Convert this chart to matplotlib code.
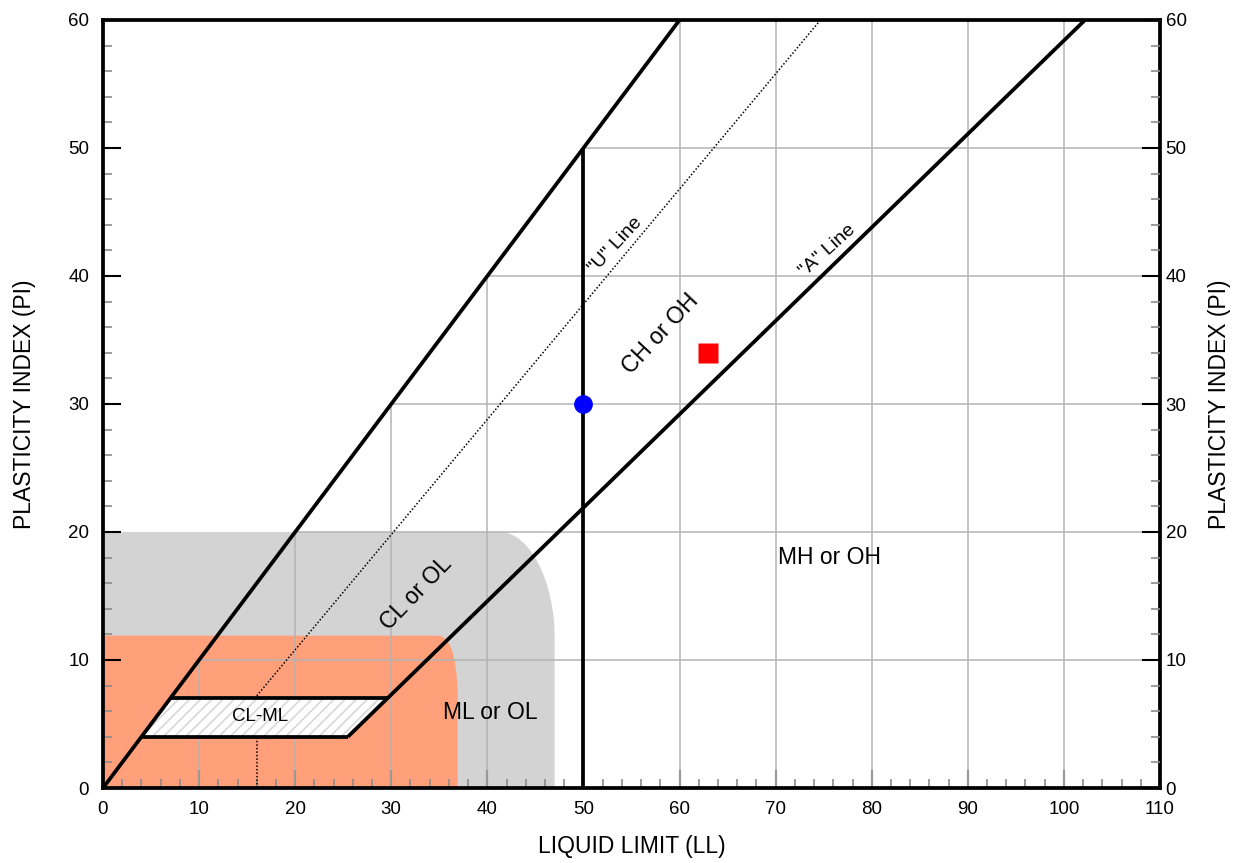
import numpy as np
import matplotlib
matplotlib.use("Agg")
import matplotlib.pyplot as plt
from matplotlib.path import Path
from matplotlib.patches import PathPatch

plt.rcParams['font.family'] = ['Liberation Sans', 'DejaVu Sans']
plt.rcParams['hatch.linewidth'] = 1.2

# chart limits and ticks
x_ticks = list(range(0, 111, 10))
y_ticks = list(range(0, 61, 10))

# zone outlines (LL, PI): straight corner, then rounded corner (bezier: start, c1, c2, end), then down
gray_zone_pts = [(0, 0), (0, 20), (41.3, 20), (44.5, 20), (47.0, 16.0), (47.0, 11.8), (47.0, 0)]
orange_zone_pts = [(0, 0), (0, 11.9), (34.9, 11.9), (36.0, 11.9), (36.8, 10.5), (36.9, 7.5), (36.9, 0)]

# CL-ML band
clml_ll = [4, 25.48, 29.59, 7]
clml_pi = [4, 4, 7, 7]

# lines
upper_ll = [0, 60]
upper_pi = [0, 60]
a_line_ll = [25.48, 102.2]
a_line_pi = [4, 60]
u_line_ll = [16, 74.67]
u_line_pi = [7.2, 60]
u_vert_ll = [16, 16]
u_vert_pi = [0, 4]
ll50_ll = [50, 50]
ll50_pi = [0, 50]

# samples
blue_pt = (50, 30)
red_pt = (63, 34)

# labels: text, LL, PI, rotation, size
zone_labels = [
    ("CH or OH", 58.0, 35.5, 47, 16.5),
    ("CL or OL", 32.6, 15.2, 46, 16.5),
    ("MH or OH", 75.6, 18.0, 0, 16.5),
    ("ML or OL", 40.3, 5.9, 0, 16.5),
    ("CL-ML", 16.3, 5.6, 0, 13.5),
    ('"U" Line', 53.3, 42.4, 47, 14),
    ('"A" Line', 75.4, 42.0, 42, 14),
]


def zone_path(pts):
    codes = [Path.MOVETO, Path.LINETO, Path.LINETO, Path.CURVE4, Path.CURVE4,
             Path.CURVE4, Path.LINETO, Path.CLOSEPOLY]
    return Path(pts + [pts[0]], codes)


fig = plt.figure(figsize=(12.39, 8.63), dpi=100)
ax = fig.add_axes([103 / 1239, 1 - 788 / 863, 1057 / 1239, 768 / 863])
ax2 = ax.twinx()
ax.set_xlim(0, 110)
ax.set_ylim(0, 60)
ax2.set_ylim(0, 60)

# shaded zones
ax.add_patch(PathPatch(zone_path(gray_zone_pts), facecolor='#d3d3d3', lw=0, zorder=1))
ax.add_patch(PathPatch(zone_path(orange_zone_pts), facecolor='#ffa07a', lw=0, zorder=1.5))

# grid, only below the PI = LL line
for xv in x_ticks[1:-1]:
    ax.plot([xv, xv], [0, min(xv, 60)], color='#b4b4b4', lw=1.1, zorder=2)
for yv in y_ticks[1:-1]:
    ax.plot([yv, 110], [yv, yv], color='#b4b4b4', lw=1.1, zorder=2)

# dotted U line
ax.plot(u_line_ll, u_line_pi, color='black', lw=1.1, ls=(0, (1, 1.3)), zorder=3)
ax.plot(u_vert_ll, u_vert_pi, color='black', lw=1.1, ls=(0, (1, 1.3)), zorder=3)

# CL-ML hatched band
ax.fill(clml_ll, clml_pi, facecolor='white', edgecolor='#d8d8d8', hatch='///',
        lw=0, zorder=4)
ax.plot(clml_ll[:2], clml_pi[:2], color='black', lw=2.7, zorder=5, solid_capstyle='butt')
ax.plot(clml_ll[2:], clml_pi[2:], color='black', lw=2.7, zorder=5, solid_capstyle='butt')

# main lines
for xs, ys in [(upper_ll, upper_pi), (a_line_ll, a_line_pi), (ll50_ll, ll50_pi)]:
    ax.plot(xs, ys, color='black', lw=2.7, zorder=5, solid_capstyle='butt')

# samples
ax.plot(*blue_pt, marker='o', ms=13.5, color='blue', mec='none', zorder=6)
ax.plot(*red_pt, marker='s', ms=14, color='red', mec='none', zorder=6)

for txt, lx, ly, rot, fs in zone_labels:
    ax.text(lx, ly, txt, rotation=rot, fontsize=fs, ha='center', va='center',
            rotation_mode='anchor', zorder=7)

# axes styling
for side in ['left', 'right', 'top', 'bottom']:
    ax.spines[side].set_linewidth(2.7)
    ax.spines[side].set_zorder(8)
    ax2.spines[side].set_visible(False)

ax.set_xticks(x_ticks)
ax.set_yticks(y_ticks)
ax.set_xticks(np.arange(0, 111, 2), minor=True)
ax.set_yticks(np.arange(0, 61, 2), minor=True)
ax2.set_yticks(y_ticks)
ax2.set_yticks(np.arange(0, 61, 2), minor=True)

ax.tick_params(axis='both', which='both', direction='in', top=False, right=False,
               labelsize=13.5)
ax.tick_params(axis='x', which='major', length=13, width=1.5, color='#444444', pad=9)
ax.tick_params(axis='y', which='major', length=13, width=1.5, color='black', pad=10)
ax.tick_params(axis='both', which='minor', length=6.5, width=1.2, color='#8c8c8c')
ax2.tick_params(axis='y', which='both', direction='in', labelsize=13.5)
ax2.tick_params(axis='y', which='major', length=13, width=1.5, color='black', pad=4)
ax2.tick_params(axis='y', which='minor', length=6.5, width=1.2, color='#8c8c8c')

ax.set_xlabel("LIQUID LIMIT (LL)", fontsize=16.5)
ax.set_ylabel("PLASTICITY INDEX (PI)", fontsize=16.5)
ax2.set_ylabel("PLASTICITY INDEX (PI)", fontsize=16.5)
ax.xaxis.set_label_coords(0.5, -0.061)
ax.yaxis.set_label_coords(-0.063, 0.5)
ax2.yaxis.set_label_coords(1.045, 0.5)

fig.savefig("out.png", dpi=100)
